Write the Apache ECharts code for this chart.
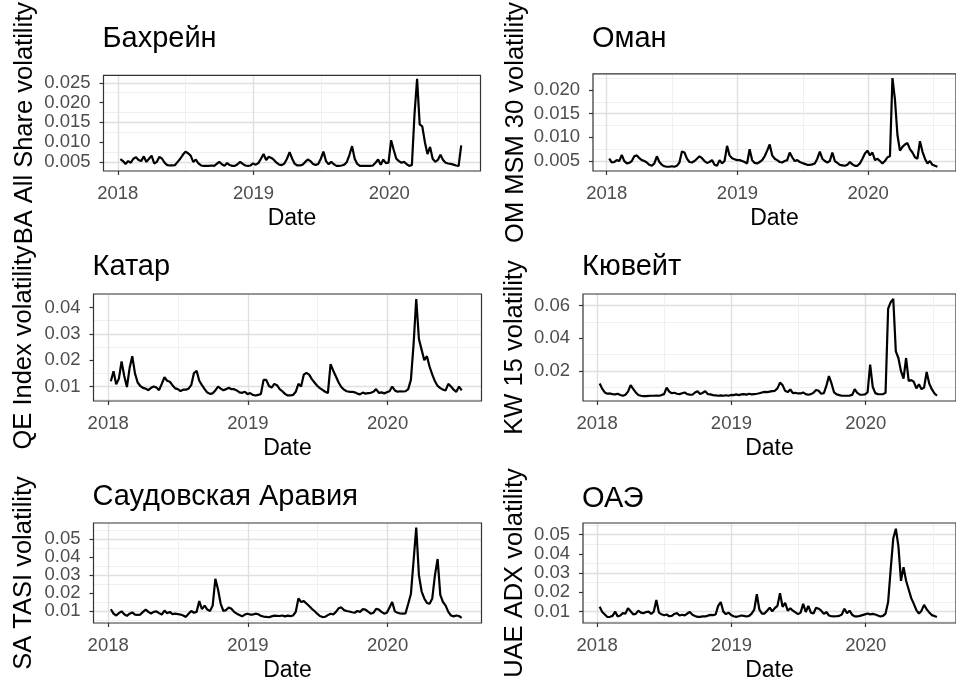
<!DOCTYPE html>
<html><head><meta charset="utf-8">
<script src="https://cdn.jsdelivr.net/npm/echarts@6/dist/echarts.min.js"></script>
<style>html,body{margin:0;padding:0;background:#fff}#c{width:956px;height:683px}</style>
</head><body><div id="c"></div>
<script>
// ---------------- DATA ----------------
const dates = [
'2018-01-08','2018-01-15','2018-01-22','2018-01-29','2018-02-05','2018-02-12','2018-02-19','2018-02-26','2018-03-05','2018-03-12',
'2018-03-19','2018-03-26','2018-04-02','2018-04-09','2018-04-16','2018-04-23','2018-04-30','2018-05-07','2018-05-14','2018-05-21',
'2018-05-28','2018-06-04','2018-06-11','2018-06-18','2018-06-25','2018-07-02','2018-07-09','2018-07-16','2018-07-23','2018-07-30',
'2018-08-06','2018-08-13','2018-08-20','2018-08-27','2018-09-03','2018-09-10','2018-09-17','2018-09-24','2018-10-01','2018-10-08',
'2018-10-15','2018-10-22','2018-10-29','2018-11-05','2018-11-12','2018-11-19','2018-11-26','2018-12-03','2018-12-10','2018-12-17',
'2018-12-24','2018-12-31','2019-01-07','2019-01-14','2019-01-21','2019-01-28','2019-02-04','2019-02-11','2019-02-18','2019-02-25',
'2019-03-04','2019-03-11','2019-03-18','2019-03-25','2019-04-01','2019-04-08','2019-04-15','2019-04-22','2019-04-29','2019-05-06',
'2019-05-13','2019-05-20','2019-05-27','2019-06-03','2019-06-10','2019-06-17','2019-06-24','2019-07-01','2019-07-08','2019-07-15',
'2019-07-22','2019-07-29','2019-08-05','2019-08-12','2019-08-19','2019-08-26','2019-09-02','2019-09-09','2019-09-16','2019-09-23',
'2019-09-30','2019-10-07','2019-10-14','2019-10-21','2019-10-28','2019-11-04','2019-11-11','2019-11-18','2019-11-25','2019-12-02',
'2019-12-09','2019-12-16','2019-12-23','2019-12-30','2020-01-06','2020-01-13','2020-01-20','2020-01-27','2020-02-03','2020-02-10',
'2020-02-17','2020-02-24','2020-03-02','2020-03-09','2020-03-16','2020-03-23','2020-03-30','2020-04-06','2020-04-13','2020-04-20',
'2020-04-27','2020-05-04','2020-05-11','2020-05-18','2020-05-25','2020-06-01','2020-06-08','2020-06-15','2020-06-22','2020-06-29',
'2020-07-06','2020-07-13'];

const bahrain = [
0.0057,0.0052,0.0045,0.0052,0.0048,0.0058,0.0062,0.0055,0.0052,0.0064,
0.0050,0.0058,0.0066,0.0046,0.0050,0.0063,0.0058,0.0048,0.0042,0.0041,
0.0041,0.0042,0.0050,0.0058,0.0068,0.0076,0.0072,0.0066,0.0050,0.0056,
0.0046,0.0041,0.0040,0.0040,0.0040,0.0041,0.0040,0.0045,0.0050,0.0044,
0.0040,0.0047,0.0042,0.0040,0.0040,0.0044,0.0050,0.0045,0.0041,0.0040,
0.0041,0.0046,0.0043,0.0047,0.0058,0.0070,0.0055,0.0063,0.0060,0.0055,
0.0048,0.0043,0.0042,0.0046,0.0058,0.0075,0.0058,0.0045,0.0041,0.0041,
0.0043,0.0050,0.0056,0.0052,0.0045,0.0042,0.0045,0.0058,0.0076,0.0052,
0.0044,0.0050,0.0044,0.0040,0.0040,0.0041,0.0043,0.0050,0.0068,0.0090,
0.0058,0.0045,0.0040,0.0040,0.0040,0.0040,0.0040,0.0041,0.0048,0.0056,
0.0043,0.0056,0.0047,0.0048,0.0105,0.0080,0.0058,0.0052,0.0048,0.0050,
0.0044,0.0040,0.0042,0.0170,0.0260,0.0145,0.0140,0.0100,0.0070,0.0088,
0.0058,0.0050,0.0055,0.0068,0.0055,0.0048,0.0046,0.0045,0.0043,0.0041,
0.0040,0.0092];

const oman = [
0.0055,0.0047,0.0048,0.0052,0.0050,0.0063,0.0050,0.0045,0.0046,0.0050,
0.0060,0.0062,0.0056,0.0052,0.0050,0.0047,0.0042,0.0040,0.0045,0.0060,
0.0048,0.0042,0.0039,0.0038,0.0038,0.0039,0.0038,0.0040,0.0047,0.0070,
0.0068,0.0055,0.0048,0.0047,0.0050,0.0055,0.0060,0.0056,0.0050,0.0046,
0.0048,0.0052,0.0042,0.0040,0.0052,0.0045,0.0050,0.0082,0.0062,0.0056,
0.0054,0.0052,0.0052,0.0050,0.0048,0.0045,0.0075,0.0052,0.0046,0.0045,
0.0048,0.0052,0.0060,0.0072,0.0085,0.0062,0.0055,0.0052,0.0048,0.0047,
0.0050,0.0052,0.0068,0.0058,0.0050,0.0052,0.0048,0.0046,0.0044,0.0042,
0.0042,0.0043,0.0045,0.0055,0.0070,0.0055,0.0050,0.0047,0.0050,0.0068,
0.0050,0.0046,0.0042,0.0041,0.0040,0.0042,0.0048,0.0043,0.0040,0.0040,
0.0045,0.0055,0.0066,0.0072,0.0062,0.0068,0.0052,0.0055,0.0050,0.0045,
0.0050,0.0058,0.0060,0.0225,0.0180,0.0105,0.0072,0.0080,0.0085,0.0088,
0.0075,0.0068,0.0058,0.0055,0.0092,0.0070,0.0055,0.0045,0.0050,0.0042,
0.0040,0.0038];

const qatar = [
0.0120,0.0158,0.0108,0.0130,0.0195,0.0140,0.0098,0.0170,0.0215,0.0150,
0.0115,0.0102,0.0095,0.0092,0.0086,0.0095,0.0100,0.0096,0.0086,0.0110,
0.0135,0.0122,0.0118,0.0105,0.0093,0.0090,0.0083,0.0088,0.0088,0.0092,
0.0105,0.0150,0.0160,0.0122,0.0105,0.0090,0.0077,0.0072,0.0074,0.0085,
0.0100,0.0092,0.0086,0.0090,0.0095,0.0090,0.0090,0.0085,0.0078,0.0076,
0.0080,0.0071,0.0075,0.0068,0.0066,0.0068,0.0072,0.0125,0.0125,0.0102,
0.0096,0.0110,0.0105,0.0090,0.0082,0.0072,0.0066,0.0066,0.0068,0.0080,
0.0110,0.0100,0.0145,0.0152,0.0145,0.0128,0.0115,0.0103,0.0094,0.0087,
0.0080,0.0075,0.0185,0.0160,0.0138,0.0115,0.0098,0.0088,0.0082,0.0080,
0.0080,0.0078,0.0073,0.0070,0.0077,0.0073,0.0075,0.0076,0.0080,0.0090,
0.0076,0.0078,0.0074,0.0078,0.0082,0.0100,0.0085,0.0080,0.0082,0.0081,
0.0082,0.0090,0.0125,0.0260,0.0432,0.0280,0.0240,0.0200,0.0215,0.0175,
0.0145,0.0120,0.0102,0.0094,0.0088,0.0085,0.0110,0.0100,0.0088,0.0080,
0.0100,0.0085];

const kuwait = [
0.0125,0.0092,0.0070,0.0062,0.0064,0.0060,0.0058,0.0062,0.0055,0.0050,
0.0056,0.0075,0.0115,0.0092,0.0070,0.0055,0.0050,0.0048,0.0048,0.0049,
0.0050,0.0050,0.0051,0.0050,0.0054,0.0060,0.0100,0.0075,0.0065,0.0068,
0.0062,0.0060,0.0065,0.0070,0.0060,0.0057,0.0056,0.0070,0.0078,0.0060,
0.0068,0.0078,0.0060,0.0058,0.0054,0.0052,0.0050,0.0052,0.0050,0.0053,
0.0050,0.0055,0.0054,0.0058,0.0054,0.0058,0.0060,0.0057,0.0062,0.0058,
0.0060,0.0062,0.0065,0.0070,0.0074,0.0072,0.0075,0.0078,0.0080,0.0095,
0.0130,0.0115,0.0080,0.0072,0.0088,0.0066,0.0068,0.0064,0.0064,0.0070,
0.0060,0.0056,0.0060,0.0068,0.0085,0.0080,0.0062,0.0065,0.0110,0.0170,
0.0125,0.0070,0.0058,0.0054,0.0050,0.0050,0.0050,0.0051,0.0055,0.0090,
0.0068,0.0057,0.0056,0.0058,0.0070,0.0240,0.0105,0.0066,0.0060,0.0059,
0.0060,0.0068,0.0580,0.0620,0.0640,0.0320,0.0280,0.0200,0.0155,0.0280,
0.0140,0.0145,0.0135,0.0095,0.0120,0.0090,0.0100,0.0195,0.0125,0.0090,
0.0065,0.0050];

const saudi = [
0.0110,0.0085,0.0075,0.0088,0.0098,0.0082,0.0073,0.0085,0.0092,0.0080,
0.0078,0.0080,0.0095,0.0108,0.0095,0.0086,0.0095,0.0098,0.0088,0.0080,
0.0102,0.0088,0.0095,0.0083,0.0085,0.0083,0.0080,0.0075,0.0067,0.0085,
0.0100,0.0090,0.0095,0.0155,0.0110,0.0130,0.0108,0.0100,0.0130,0.0280,
0.0220,0.0140,0.0100,0.0105,0.0120,0.0112,0.0095,0.0085,0.0078,0.0070,
0.0080,0.0085,0.0080,0.0080,0.0085,0.0082,0.0073,0.0069,0.0067,0.0065,
0.0070,0.0074,0.0073,0.0072,0.0075,0.0070,0.0074,0.0071,0.0075,0.0095,
0.0170,0.0150,0.0155,0.0142,0.0128,0.0112,0.0100,0.0085,0.0072,0.0066,
0.0068,0.0077,0.0085,0.0080,0.0095,0.0115,0.0120,0.0105,0.0100,0.0097,
0.0093,0.0090,0.0100,0.0095,0.0110,0.0108,0.0096,0.0085,0.0090,0.0112,
0.0108,0.0095,0.0085,0.0090,0.0120,0.0150,0.0098,0.0090,0.0086,0.0085,
0.0087,0.0140,0.0195,0.0380,0.0565,0.0300,0.0210,0.0170,0.0145,0.0140,
0.0170,0.0300,0.0390,0.0190,0.0150,0.0130,0.0095,0.0075,0.0070,0.0075,
0.0072,0.0062];

const uae = [
0.0125,0.0098,0.0085,0.0072,0.0073,0.0078,0.0100,0.0075,0.0080,0.0092,
0.0090,0.0118,0.0102,0.0086,0.0088,0.0105,0.0095,0.0092,0.0098,0.0100,
0.0088,0.0100,0.0160,0.0095,0.0086,0.0081,0.0085,0.0076,0.0078,0.0088,
0.0092,0.0080,0.0084,0.0080,0.0090,0.0098,0.0084,0.0077,0.0073,0.0073,
0.0075,0.0075,0.0079,0.0083,0.0082,0.0085,0.0130,0.0150,0.0100,0.0087,
0.0095,0.0083,0.0076,0.0073,0.0076,0.0080,0.0078,0.0075,0.0078,0.0090,
0.0110,0.0190,0.0110,0.0090,0.0090,0.0105,0.0120,0.0102,0.0118,0.0130,
0.0195,0.0125,0.0145,0.0105,0.0118,0.0105,0.0096,0.0087,0.0095,0.0140,
0.0098,0.0130,0.0095,0.0090,0.0120,0.0115,0.0105,0.0088,0.0098,0.0080,
0.0076,0.0075,0.0076,0.0078,0.0085,0.0115,0.0092,0.0105,0.0084,0.0075,
0.0075,0.0078,0.0082,0.0086,0.0090,0.0086,0.0088,0.0085,0.0080,0.0075,
0.0078,0.0090,0.0150,0.0320,0.0480,0.0530,0.0440,0.0260,0.0330,0.0260,
0.0215,0.0170,0.0140,0.0108,0.0090,0.0105,0.0135,0.0112,0.0096,0.0082,
0.0077,0.0072];

const panelTitles = ['Бахрейн','Оман','Катар','Кювейт','Саудовская Аравия','ОАЭ'];
const yAxisTitles = ['BA All Share volatility','OM MSM 30 volatility','QE Index volatility','KW 15 volatility','SA TASI volatility','UAE ADX volatility'];
const xAxisTitle = 'Date';
const xTickLabels = ['2018','2019','2020'];
const bahrainTicks = ['0.005','0.010','0.015','0.020','0.025'];
const omanTicks = ['0.005','0.010','0.015','0.020'];
const qatarTicks = ['0.01','0.02','0.03','0.04'];
const kuwaitTicks = ['0.02','0.04','0.06'];
const saudiTicks = ['0.01','0.02','0.03','0.04','0.05'];
const uaeTicks = ['0.01','0.02','0.03','0.04','0.05'];

// ---------------- LAYOUT / STYLE ----------------
const xRange = [2017.895, 2020.672];
const panels = [
  {values: bahrain, ticks: bahrainTicks, yr: [0.0027, 0.0269], split: 5, grid: {left: 103.5, top: 65, width: 377, height: 106}, nameGap: 66, titleTop: 24},
  {values: oman,    ticks: omanTicks,    yr: [0.0029, 0.0234], split: 4, grid: {left: 593, top: 65, width: 377.5, height: 106}, nameGap: 64, titleTop: 24},
  {values: qatar,   ticks: qatarTicks,   yr: [0.0045, 0.0451], split: 4, grid: {left: 93.5, top: 294, width: 388, height: 107}, nameGap: 57, titleTop: 252},
  {values: kuwait,  ticks: kuwaitTicks,  yr: [0.0018, 0.0670], split: 3, grid: {left: 583, top: 294, width: 387, height: 107}, nameGap: 55, titleTop: 252},
  {values: saudi,   ticks: saudiTicks,   yr: [0.0033, 0.0591], split: 5, grid: {left: 93.5, top: 523, width: 388, height: 106}, nameGap: 57, titleTop: 482},
  {values: uae,     ticks: uaeTicks,     yr: [0.0041, 0.0560], split: 5, grid: {left: 583, top: 523, width: 387, height: 106}, nameGap: 55, titleTop: 484}
];

const FONT = '"Liberation Sans", Arial, Helvetica, sans-serif';
function decYear(s) {
  const p = s.split('-').map(Number);
  const t = Date.UTC(p[0], p[1] - 1, p[2]);
  const a = Date.UTC(p[0], 0, 1), b = Date.UTC(p[0] + 1, 0, 1);
  return p[0] + (t - a) / (b - a);
}
const xVals = dates.map(decYear);
const xTickVals = xTickLabels.map(Number);

const option = {
  animation: false,
  backgroundColor: '#ffffff',
  textStyle: {fontFamily: FONT},
  title: [], grid: [], xAxis: [], yAxis: [], series: []
};

function yAxisPart(p, i, labels, main) {
  const vals = labels.map(Number);
  return {
    type: 'value', gridIndex: i, position: 'left', offset: 0,
    min: p.yr[0], max: p.yr[1], splitNumber: p.split,
    axisLine: {show: false},
    axisTick: {show: true, length: 4, interval: 0, customValues: vals, lineStyle: {color: '#333333', width: 1.2}},
    axisLabel: {customValues: vals, interval: 0, color: '#4d4d4d', fontSize: 18.5, margin: 13, fontFamily: FONT,
      showMinLabel: true, showMaxLabel: true, hideOverlap: false,
      formatter: v => labels[vals.findIndex(t => Math.abs(t - v) < 1e-9)] || ''},
    splitLine: {show: main, lineStyle: {color: '#e0e0e0', width: 1.4}},
    minorTick: {show: false, splitNumber: 2},
    minorSplitLine: {show: main, lineStyle: {color: '#eeeeee', width: 0.9}},
    name: main ? yAxisTitles[i] : '', nameLocation: 'middle', nameGap: p.nameGap, nameRotate: 90,
    nameTextStyle: {color: '#000', fontSize: 25.5, fontFamily: FONT}
  };
}

panels.forEach((p, i) => {
  option.title.push({
    text: panelTitles[i], left: p.grid.left - 1, top: p.titleTop, padding: 0,
    textStyle: {fontSize: 29, fontWeight: 'normal', color: '#000', fontFamily: FONT}
  });
  option.grid.push(Object.assign({
    show: true, z: 10, backgroundColor: 'transparent', borderColor: '#333333', borderWidth: 1.2, containLabel: false
  }, p.grid));
  option.xAxis.push({
    type: 'value', gridIndex: i, min: xRange[0], max: xRange[1], splitNumber: 3,
    axisLine: {show: false},
    axisTick: {show: true, length: 4, interval: 0, customValues: xTickVals, lineStyle: {color: '#333333', width: 1.2}},
    axisLabel: {customValues: xTickVals, interval: 0, color: '#4d4d4d', fontSize: 18.5, margin: 13, fontFamily: FONT,
      showMinLabel: true, showMaxLabel: true, hideOverlap: false,
      formatter: v => xTickLabels[xTickVals.findIndex(t => Math.abs(t - v) < 1e-6)] || ''},
    splitLine: {show: true, lineStyle: {color: '#e0e0e0', width: 1.4}},
    minorTick: {show: false, splitNumber: 2},
    minorSplitLine: {show: true, lineStyle: {color: '#eeeeee', width: 0.9}},
    name: xAxisTitle, nameLocation: 'middle', nameGap: 36,
    nameTextStyle: {color: '#000', fontSize: 23, fontFamily: FONT}
  });
  // tick labels split over two coincident left axes so that none is auto-hidden
  const evenLabels = p.ticks.filter((_, k) => k % 2 === 0);
  const oddLabels = p.ticks.filter((_, k) => k % 2 === 1);
  option.yAxis.push(yAxisPart(p, i, evenLabels, true));
  option.yAxis.push(yAxisPart(p, i, oddLabels, false));
  option.series.push({
    type: 'line', xAxisIndex: i, yAxisIndex: 2 * i, showSymbol: false, symbol: 'none',
    clip: true, z: 5,
    lineStyle: {color: '#000000', width: 2.2},
    data: p.values.map((v, k) => [xVals[k], v])
  });
});

const chart = echarts.init(document.getElementById('c'), null, {renderer: 'canvas'});
chart.setOption(option);
</script>
</body></html>
